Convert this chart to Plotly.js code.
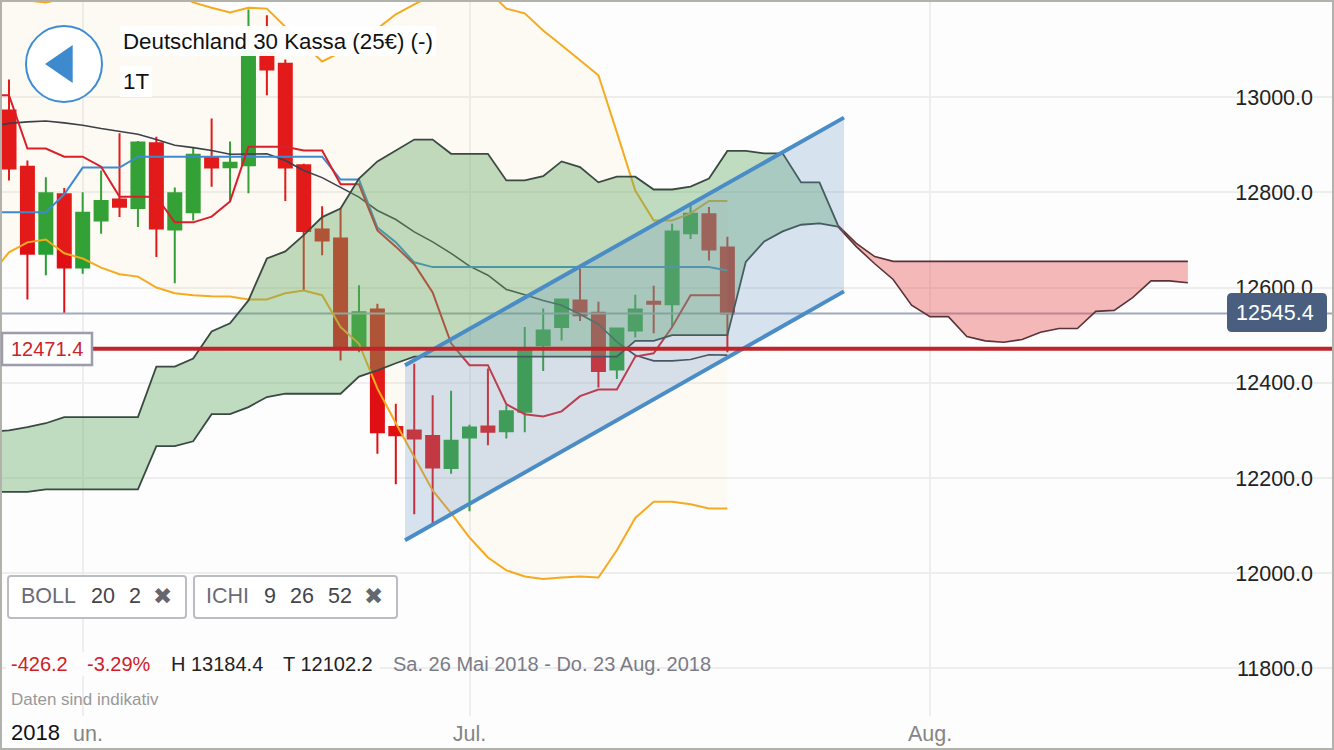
<!DOCTYPE html>
<html><head><meta charset="utf-8">
<script src="https://cdn.plot.ly/plotly-3.0.1.min.js"></script>
<style>html,body{margin:0;padding:0;background:#fdfdfd;overflow:hidden}#c{width:1334px;height:750px}</style>
</head><body><div id="c"></div>
<script>
// candle values, index 0..39
const candleOpen  = [12972,12854,12671,12796,12642,12741,12785,12767,12903,12722,12758,12873,12853,12857,13094,13070,12857,12722,12703,12472,12554,12307,12300,12288,12221,12285,12308,12298,12339,12479,12517,12573,12547,12428,12510,12570,12565,12714,12754,12684];
const candleHigh  = [13037,12867,12832,12809,12800,12846,12924,12908,12917,12810,12894,12955,12907,13184,13172,13079,12860,12771,12766,12605,12566,12356,12440,12374,12383,12312,12430,12353,12517,12556,12577,12640,12570,12515,12585,12604,12734,12773,12769,12707];
const candleLow   = [12825,12575,12626,12545,12629,12713,12748,12727,12664,12609,12741,12812,12779,12798,13004,12782,12594,12668,12447,12464,12251,12187,12124,12102,12209,12130,12269,12283,12296,12425,12489,12530,12390,12408,12495,12504,12517,12702,12657,12464];
const candleClose = [12850,12671,12798,12642,12757,12782,12770,12905,12724,12798,12879,12852,12862,13098,13058,12852,12719,12699,12472,12548,12296,12290,12283,12222,12278,12306,12297,12340,12468,12510,12575,12542,12425,12514,12554,12566,12718,12755,12680,12545.4];
// indicator values, index -1..39
const bollUpper = [13224,13216,13203,13199,13207,13220,13228,13232,13232,13228,13220,13199,13188,13178,13188,13186,13148,13111,13075,13094,13123,13144,13174,13195,13214,13228,13235,13224,13186,13176,13140,13109,13077,13046,12926,12804,12741,12741,12756,12782,12782];
const bollLower = [12626,12674,12695,12701,12672,12661,12642,12628,12623,12600,12588,12584,12582,12581,12575,12575,12588,12594,12584,12517,12482,12388,12315,12244,12174,12126,12075,12033,12006,11993,11988,11991,11993,11991,12048,12116,12150,12150,12145,12136,12136];
const bollMid   = [12938,12945,12948,12950,12946,12941,12934,12928,12922,12911,12899,12894,12888,12880,12881,12881,12867,12846,12831,12811,12790,12762,12743,12717,12696,12672,12645,12626,12596,12585,12573,12563,12544,12523,12486,12458,12446,12446,12449,12459,12458];
const kijun     = [12758,12758,12758,12758,12796,12852,12852,12852,12875,12875,12875,12875,12875,12875,12875,12875,12875,12875,12875,12827,12827,12726,12695,12653,12643,12643,12643,12643,12643,12643,12643,12643,12643,12643,12643,12643,12643,12643,12643,12643,12636];
const tenkan    = [13004,13004,12892,12892,12875,12875,12854,12791,12791,12791,12737,12737,12749,12781,12896,12896,12896,12888,12888,12817,12817,12720,12686,12649,12590,12483,12437,12437,12355,12334,12329,12340,12372,12386,12386,12455,12462,12517,12584,12584,12584];
// cloud, index -1..45
const cloudTop  = [12297,12300,12307,12315,12328,12328,12328,12328,12328,12434,12434,12451,12508,12525,12573,12661,12676,12710,12748,12766,12829,12865,12888,12911,12911,12881,12881,12881,12825,12825,12834,12865,12853,12821,12833,12833,12806,12806,12812,12829,12887,12887,12882,12882,12821,12821,12731];
const cloudBase = [12171,12171,12171,12176,12176,12176,12176,12176,12176,12267,12267,12277,12334,12334,12349,12370,12377,12377,12377,12377,12413,12426,12441,12455,12455,12455,12455,12455,12455,12455,12455,12455,12455,12455,12455,12488,12488,12500,12500,12500,12500,12654,12697,12718,12732,12735,12728];
// future cloud, index 45..64
const futureTop  = [12731,12693,12665,12655,12655,12655,12655,12655,12655,12655,12655,12655,12655,12655,12655,12655,12655,12655,12655,12655];
const futureBase = [12728,12686,12650,12617,12563,12539,12539,12497,12488,12485,12491,12506,12514,12514,12550,12552,12579,12614,12614,12610];
// drawn channel
const channelX    = [21.5,45.33];
const channelHigh = [12437,12957];
const channelLow  = [12069,12592];
const lastPrice = 12545.4, alertPrice = 12471.4;
const levelX = [-1,73];
const monthTicks = [4,25,50], monthLabels = ['Jun.','Jul.','Aug.'];

const W=1334,H=750,ml=2,mr=2,mt=2,mb=34;
const fx=p=>(p-ml)/(W-ml-mr), fy=p=>1-(p-mt)/(H-mt-mb);
const FONT='"Liberation Sans", Arial, sans-serif';
const seq=(a,n)=>Array.from({length:n},(_,i)=>a+i);
const xCandle=seq(0,40), xInd=seq(-1,41), xCloud=seq(-1,47), xFuture=seq(45,20);
const line=(x,y,color,width)=>({type:'scatter',mode:'lines',x,y,line:{color,width,shape:'linear'},hoverinfo:'skip'});

const traces=[
 {type:'candlestick',x:xCandle,open:candleOpen,high:candleHigh,low:candleLow,close:candleClose,whiskerwidth:0,
  increasing:{line:{color:'#259f32',width:2},fillcolor:'#259f32'},
  decreasing:{line:{color:'#e00f14',width:2},fillcolor:'#e00f14'},hoverinfo:'skip'},
 line(levelX,[lastPrice,lastPrice],'#a2aaba',2),
 line(xInd,bollUpper,'rgba(0,0,0,0)',0),
 Object.assign(line(xInd,bollLower,'rgba(0,0,0,0)',0),{fill:'tonexty',fillcolor:'rgba(255,200,110,0.07)'}),
 line(xInd,bollUpper,'#f5aa1f',2),
 line(xInd,bollLower,'#f5aa1f',2),
 line(xInd,bollMid,'#3c4048',1.6),
 line(xInd,kijun,'#3d8ad0',2),
 line(xInd,tenkan,'#d8202a',2),
 line(xCloud,cloudTop,'#3a4a42',1.8),
 Object.assign(line(xCloud,cloudBase,'#3a4a42',1.8),{fill:'tonexty',fillcolor:'rgba(100,170,100,0.4)'}),
 line(xFuture,futureTop,'#5a3238',1.6),
 Object.assign(line(xFuture,futureBase,'#5a3238',1.6),{fill:'tonexty',fillcolor:'rgba(232,80,80,0.4)'}),
 line(channelX,channelHigh,'rgba(0,0,0,0)',0),
 Object.assign(line(channelX,channelLow,'rgba(0,0,0,0)',0),{fill:'tonexty',fillcolor:'rgba(100,148,196,0.25)'}),
 line(channelX,channelHigh,'#4a8cc6',4),
 line(channelX,channelLow,'#4a8cc6',4),
 line(levelX,[alertPrice,alertPrice],'#c0242a',4)
];

const note=(px,py,text,size,color,extra)=>Object.assign({xref:'paper',yref:'paper',x:fx(px),y:fy(py),text,showarrow:false,
  xanchor:'left',yanchor:'middle',align:'left',borderpad:0,font:{family:FONT,size,color}},extra||{});

function rrect(x0,y0,x1,y1,r){
  const X=fx,Y=fy;
  return `M${X(x0+r)},${Y(y0)}L${X(x1-r)},${Y(y0)}Q${X(x1)},${Y(y0)} ${X(x1)},${Y(y0+r)}L${X(x1)},${Y(y1-r)}Q${X(x1)},${Y(y1)} ${X(x1-r)},${Y(y1)}L${X(x0+r)},${Y(y1)}Q${X(x0)},${Y(y1)} ${X(x0)},${Y(y1-r)}L${X(x0)},${Y(y0+r)}Q${X(x0)},${Y(y0)} ${X(x0+r)},${Y(y0)}Z`;
}
const box=(x0,y0,x1,y1,r,fill,stroke,w)=>({type:'path',xref:'paper',yref:'paper',path:rrect(x0,y0,x1,y1,r),fillcolor:fill,line:{color:stroke,width:w},layer:'above'});
const plain=(x0,y0,x1,y1,fill)=>({type:'rect',xref:'paper',yref:'paper',x0:fx(x0),x1:fx(x1),y0:fy(y0),y1:fy(y1),fillcolor:fill,line:{width:0},layer:'above'});

const shapes=[
 plain(120,26,436,56,'rgba(255,255,255,0.95)'),
 plain(120,66,152,97,'rgba(255,255,255,0.95)'),
 plain(5,718,72,747,'#fdfdfd'),
 plain(6,652,380,676,'rgba(253,253,253,0.9)'),
 {type:'rect',xref:'paper',yref:'paper',x0:fx(1),x1:fx(1333),y0:fy(1),y1:fy(749),line:{color:'#b2b2ac',width:2},layer:'above'},
 {type:'circle',xref:'paper',yref:'paper',x0:fx(26),x1:fx(102),y0:fy(26),y1:fy(102),fillcolor:'#ffffff',line:{color:'#3f8dd2',width:2},layer:'above'},
 {type:'path',xref:'paper',yref:'paper',path:`M${fx(72.7)},${fy(45)}L${fx(72.7)},${fy(83)}L${fx(45)},${fy(64)}Z`,fillcolor:'#3d8acf',line:{width:0},layer:'above'},
 box(8,576,186,618,3,'#ffffff','#bcbcc4',2),
 box(194,576,397,618,3,'#ffffff','#bcbcc4',2),
 box(2,333,92,365,0,'#ffffff','#9c9cac',2.5),
 box(1227,293,1327,332,5,'#4a5f7f','#4a5f7f',0)
];

const X_FONT={family:'DejaVu Sans',size:23,color:'#66666f'};
const annotations=[
 note(122,41,'Deutschland 30 Kassa (25€) (-)',22.3,'#111'),
 note(122,81,'1T',22.3,'#111'),
 note(20,596,'BOLL',21.5,'#6b6b78'), note(90,596,'20',21.5,'#44444c'), note(128,596,'2',21.5,'#44444c'),
 note(152,596,'✖',23,'#66666f',{font:X_FONT}),
 note(205,596,'ICHI',21.5,'#6b6b78'), note(263,596,'9',21.5,'#44444c'), note(289,596,'26',21.5,'#44444c'), note(327,596,'52',21.5,'#44444c'),
 note(363,596,'✖',23,'#66666f',{font:X_FONT}),
 note(10,349,'12471.4',20,'#c8242c'),
 note(1235,313,'12545.4',21.5,'#ffffff'),
 note(10,664,'-426.2',20,'#d0202a'),
 note(86,664,'-3.29%',20,'#d0202a'),
 note(170,664,'H 13184.4',20,'#222'),
 note(282,664,'T 12102.2',20,'#222'),
 note(392,664,'Sa. 26 Mai 2018 - Do. 23 Aug. 2018',20,'#7b7b86'),
 note(10,699,'Daten sind indikativ',17,'#999'),
 note(10,733,'2018',22,'#111')
];

const layout={
 width:W,height:H,margin:{l:ml,r:mr,t:mt,b:mb,pad:0},paper_bgcolor:'#fdfdfd',plot_bgcolor:'#fdfdfd',
 showlegend:false,hovermode:false,dragmode:false,boxgap:0.16,boxgroupgap:0.16,
 xaxis:{type:'linear',range:[(ml-9)/18.42,(W-mr-9)/18.42],rangeslider:{visible:false},tickmode:'array',tickvals:monthTicks,ticktext:monthLabels,
  showgrid:true,gridcolor:'#eeeeee',gridwidth:2,zeroline:false,showline:false,ticks:'',ticklabelstandoff:2,
  tickfont:{family:FONT,size:21.5,color:'#858585'}},
 yaxis:{side:'right',range:[11700,13199.9],tick0:11800,dtick:200,tickformat:'.1f',showgrid:true,gridcolor:'#eeeeee',gridwidth:2,
  zeroline:false,showline:false,ticks:'',ticklabelposition:'inside',ticklabelstandoff:16,
  tickfont:{family:FONT,size:21.5,color:'#222'}},
 shapes,annotations
};
Plotly.newPlot('c',traces,layout,{displayModeBar:false,staticPlot:true});
</script></body></html>
